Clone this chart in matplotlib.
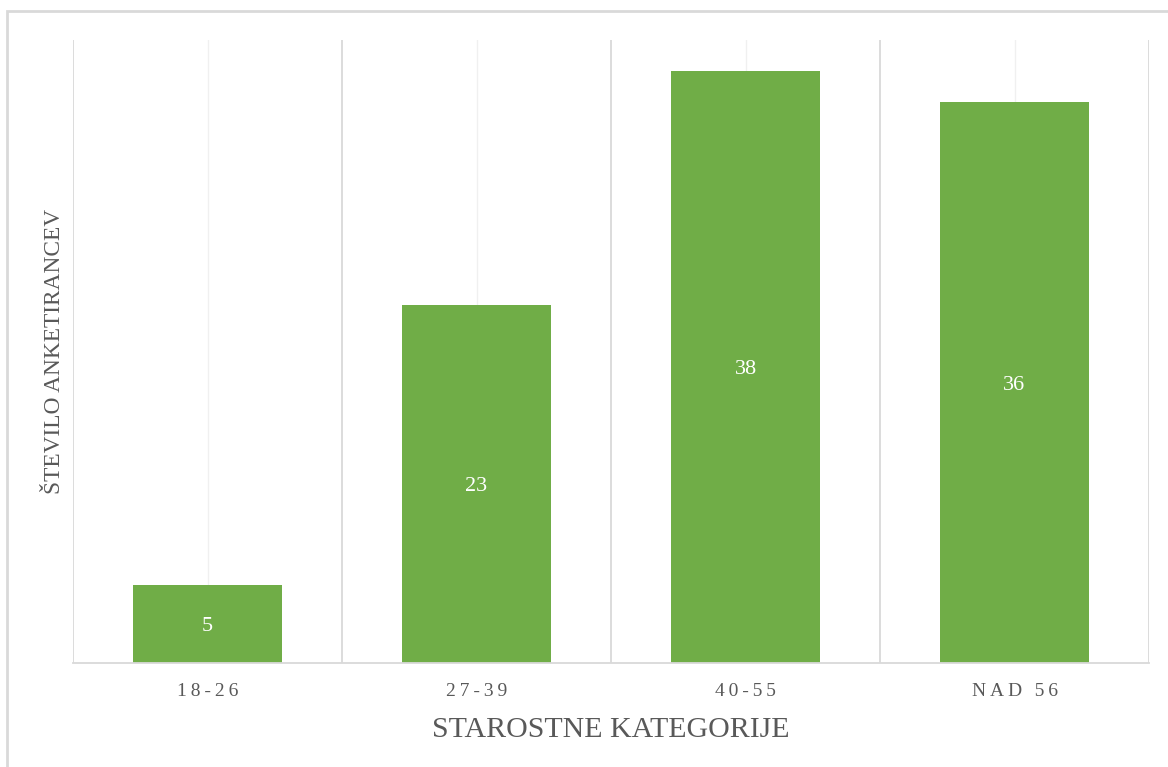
import matplotlib
matplotlib.use('Agg')
import matplotlib.pyplot as plt
from matplotlib.patches import Rectangle

# Data
categories = ["18-26", "27-39", "40-55", "NAD 56"]
counts = [5, 23, 38, 36]

BAR_COLOR = "#70AD47"
TEXT_COLOR = "#595959"
GRID_COLOR = "#D9D9D9"

plt.rcParams['font.family'] = ['Liberation Serif', 'DejaVu Serif']

fig = plt.figure(figsize=(11.68, 7.67), dpi=100)
ax = fig.add_axes([73 / 1168, 1 - 663 / 767, (1149 - 73) / 1168, (663 - 40) / 767])

x = list(range(len(categories)))
bars = ax.bar(x, counts, width=0.557, color=BAR_COLOR, zorder=3)

# value labels in the middle of each bar
for b, v in zip(bars, counts):
    ax.text(b.get_x() + b.get_width() / 2, v / 2, str(v), ha='center', va='center_baseline',
            color='white', fontsize=16, zorder=4)

ax.set_xlim(-0.5, len(categories) - 0.5)
ax.set_ylim(0, 40)

# gridlines: darker at category boundaries, lighter at centers
for i in range(len(categories) + 1):
    ax.axvline(i - 0.5, color=GRID_COLOR, linewidth=1.3, zorder=1)
for i in x:
    ax.axvline(i, color="#F0F0F0", linewidth=1.0, zorder=1)

for s in ['top', 'left', 'right']:
    ax.spines[s].set_visible(False)
ax.spines['bottom'].set_color(GRID_COLOR)
ax.spines['bottom'].set_linewidth(1.3)
ax.spines['bottom'].set_zorder(5)

ax.set_yticks([])
ax.set_xticks(x)
spaced = ["\u2009".join(c) for c in categories]
ax.set_xticklabels(spaced, fontsize=14, color=TEXT_COLOR)
ax.tick_params(axis='x', length=0, pad=14.5)

ax.set_xlabel("STAROSTNE KATEGORIJE", fontsize=21.5, color=TEXT_COLOR, labelpad=12)
ax.set_ylabel("ŠTEVILO ANKETIRANCEV", fontsize=16.8, color=TEXT_COLOR, labelpad=6)

# outer chart border (only top and left visible)
fig.patches.append(Rectangle((7 / 1168, -0.1), 1.2, 1 - 11 / 767 + 0.1,
                             transform=fig.transFigure, fill=False,
                             edgecolor=GRID_COLOR, linewidth=2))

fig.savefig("out.png", dpi=100)
